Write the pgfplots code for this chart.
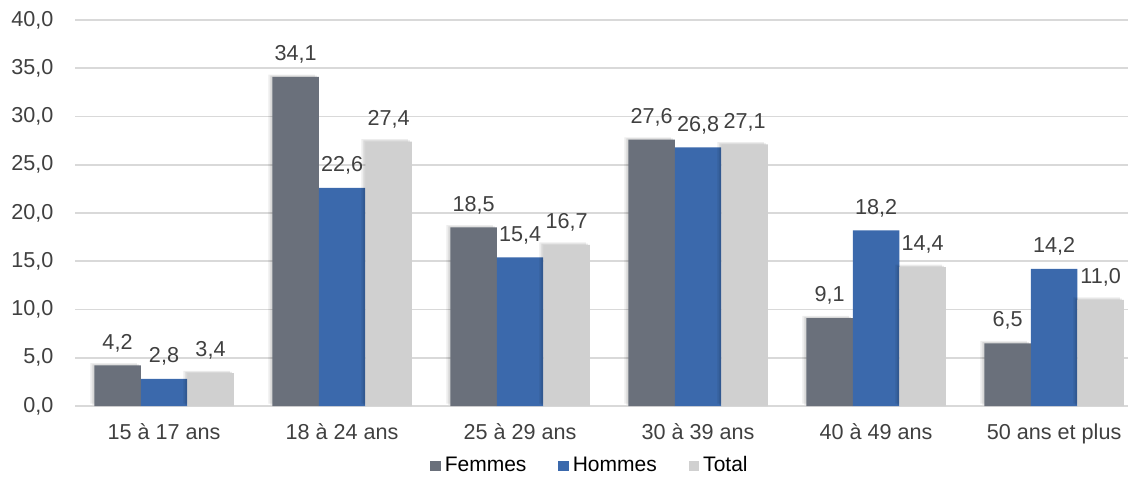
\documentclass[border=0pt]{standalone}
\usepackage{fontspec}
\setmainfont{Liberation Sans}
\usepackage{pgfplots}
\pgfplotsset{compat=1.18}

\definecolor{femmes}{RGB}{106,112,123}
\definecolor{hommes}{RGB}{59,105,172}
\definecolor{total}{RGB}{208,208,208}
\definecolor{txt}{RGB}{64,64,64}
\definecolor{gridc}{RGB}{217,217,217}

% soft shadow up and to the left of each bar
\tikzset{barshadow/.style={
  preaction={fill=black, fill opacity=0.07, transform canvas={xshift=-2pt, yshift=1.2pt}},
  preaction={fill=black, fill opacity=0.09, transform canvas={xshift=-1pt, yshift=0.6pt}}}}

\begin{document}
\fontsize{10.8}{13}\selectfont
\begin{tikzpicture}
\useasboundingbox (-37.5pt,-35.5pt) rectangle (529.5pt,203pt);
\begin{axis}[
  scale only axis,
  width=526.5pt, height=193pt,
  ybar, bar width=23.25pt,
  xmin=-0.5, xmax=5.415,
  ymin=0, ymax=40,
  ytick={0,5,...,40},
  xtick={0,...,5},
  xticklabels={15 à 17 ans, 18 à 24 ans, 25 à 29 ans, 30 à 39 ans, 40 à 49 ans, 50 ans et plus},
  axis line style={draw=none},
  major tick length=0pt,
  ymajorgrids,
  grid style={gridc, line width=0.9pt},
  ticklabel style={text=txt, font=\fontsize{10.8}{13}\selectfont},
  yticklabel style={xshift=-7pt},
  xticklabel style={yshift=-5pt},
  /pgf/number format/assume math mode=true,
  /pgf/number format/.cd, fixed, fixed zerofill, precision=1, use comma, /pgfplots/.cd,
  nodes near coords,
  every node near coord/.append style={text=txt, font=\fontsize{10.8}{13}\selectfont, yshift=3pt},
  every axis plot/.append style={draw=none},
  legend style={draw=none, at={(rel axis cs:0.49,-0.155)}, anchor=center,
    legend columns=3, font=\fontsize{10.5}{12.6}\selectfont,
    /tikz/every even column/.append style={column sep=14pt}},
  legend image code/.code={\fill[#1] (0pt,-2.6pt) rectangle (5.2pt,2.6pt);},
  clip=false,
]
\addlegendimage{fill=femmes}
\addlegendimage{fill=hommes}
\addlegendimage{fill=total}
\addplot[fill=femmes, barshadow, bar shift=-23.25pt, forget plot] coordinates {(0,4.2) (1,34.1) (2,18.5) (3,27.6) (4,9.1) (5,6.5)};
\addplot[fill=hommes, bar shift=0pt, forget plot] coordinates {(0,2.8) (1,22.6) (2,15.4) (3,26.8) (4,18.2) (5,14.2)};
\addplot[fill=total, barshadow, bar shift=23.25pt, forget plot]  coordinates {(0,3.4) (1,27.4) (2,16.7) (3,27.1) (4,14.4) (5,11.0)};
\legend{Femmes, Hommes, Total}
\end{axis}
\end{tikzpicture}
\end{document}
